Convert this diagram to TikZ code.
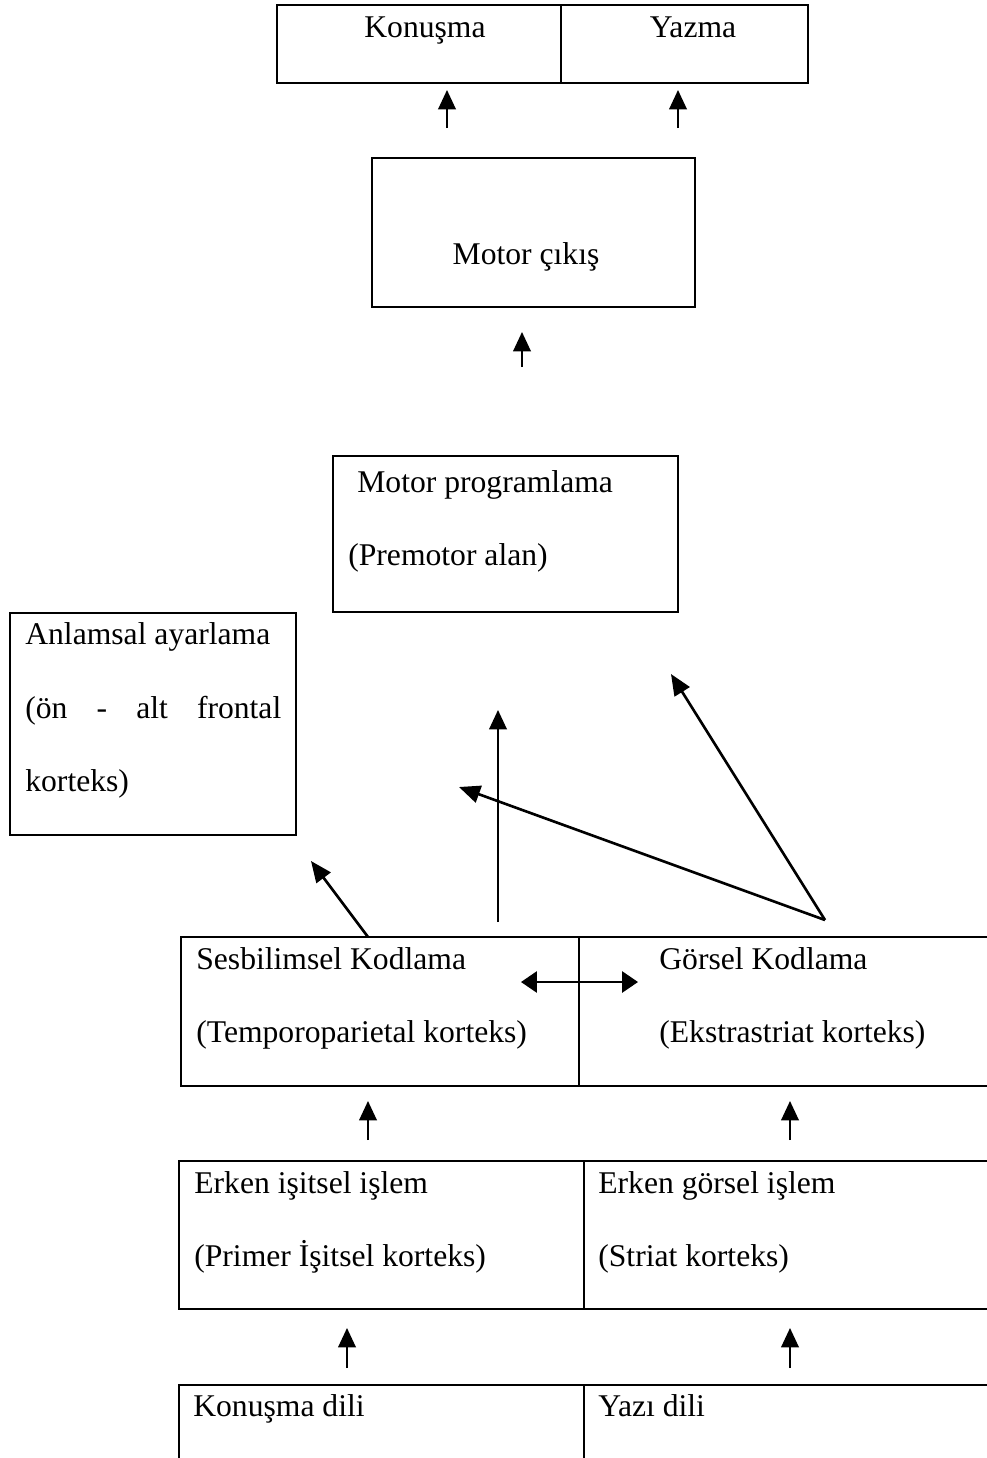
\documentclass[tikz,border=0pt]{standalone}
\usepackage{fontspec}
\setmainfont{Liberation Serif}
\usetikzlibrary{arrows.meta,positioning}
\tikzset{
  box/.style  = {draw, rectangle, line width=0.9pt, inner sep=0pt},
  lbl/.style  = {anchor=base west, inner sep=0pt, font=\fontsize{18}{22}\selectfont},
  up/.style   = {line width=1.1pt, -{Triangle[length=11pt,width=10pt]}},
  link/.style = {line width=1.5pt, -{Triangle[length=12pt,width=10pt]}}
}

\begin{document}
\begin{tikzpicture}[x=0.02cm,y=-0.02cm]
\clip (0,0) rectangle (987,1458);

% boxes
\node[box, minimum width=5.68cm, minimum height=1.56cm] (konusma) at (419,44) {};
\node[box, minimum width=4.94cm, minimum height=1.56cm] (yazma) at (684.5,44) {};
\node[box, minimum width=6.46cm, minimum height=2.98cm] (cikis) at (533.5,232.5) {};
\node[box, minimum width=6.90cm, minimum height=3.12cm] (program) at (505.5,534) {};
\node[box, minimum width=5.72cm, minimum height=4.44cm] (anlam) at (153,724) {};
\node[box, minimum width=7.96cm, minimum height=2.98cm] (ses) at (380,1011.5) {};
\node[box, minimum width=8.62cm, minimum height=2.98cm] (gorsel) at (794,1011.5) {};
\node[box, minimum width=8.10cm, minimum height=2.96cm] (isitsel) at (381.5,1235) {};
\node[box, minimum width=8.52cm, minimum height=2.96cm] (erkengorsel) at (797,1235) {};
\node[box, minimum width=8.10cm, minimum height=3.10cm] (konusmadili) at (381.5,1462.5) {};
\node[box, minimum width=8.52cm, minimum height=3.10cm] (yazidili) at (797,1462.5) {};

% texts
\node[lbl, anchor=base] (konusmaT) at (425,37) {Konuşma};
\node[lbl, anchor=base] (yazmaT) at (693,37) {Yazma};
\node[lbl, anchor=base] (cikisT) at (526,264) {Motor çıkış};
\node[lbl] (program1) at (357,492) {Motor programlama};
\node[lbl] (program2) at (348,565) {(Premotor alan)};
\node[lbl] (anlam1) at (25,644) {Anlamsal ayarlama};
\node[lbl] (anlam2) at (25,718) {\makebox[5.12cm][s]{(ön - alt frontal}};
\node[lbl] (anlam3) at (25,791) {korteks)};
\node[lbl] (ses1) at (196,969) {Sesbilimsel Kodlama};
\node[lbl] (ses2) at (196,1042) {(Temporoparietal korteks)};
\node[lbl] (gorsel1) at (659,969) {Görsel Kodlama};
\node[lbl] (gorsel2) at (659,1042) {(Ekstrastriat korteks)};
\node[lbl] (isitsel1) at (194,1193) {Erken işitsel işlem};
\node[lbl] (isitsel2) at (194,1266) {(Primer İşitsel korteks)};
\node[lbl] (erkengorsel1) at (598,1193) {Erken görsel işlem};
\node[lbl] (erkengorsel2) at (598,1266) {(Striat korteks)};
\node[lbl] (konusmadiliT) at (193,1416) {Konuşma dili};
\node[lbl] (yazidiliT) at (598,1416) {Yazı dili};

% arrow ends
\coordinate (k0) at (447,128);   \coordinate (k1) at (447,90);
\coordinate (y0) at (678,128);   \coordinate (y1) at (678,90);
\coordinate (c0) at (522,367);   \coordinate (c1) at (522,332);
\coordinate (s0) at (368,937);   \coordinate (s1) at (311,861);
\coordinate (m0) at (498,922);   \coordinate (m1) at (498,710);
\coordinate (g0) at (825,920);
\coordinate (g1) at (459,787);   \coordinate (g2) at (671,674);
\coordinate (d0) at (521,982);   \coordinate (d1) at (638,982);
\coordinate (i0) at (368,1140);  \coordinate (i1) at (368,1101);
\coordinate (e0) at (790,1140);  \coordinate (e1) at (790,1101);
\coordinate (p0) at (347,1368);  \coordinate (p1) at (347,1328);
\coordinate (r0) at (790,1368);  \coordinate (r1) at (790,1328);

% arrows
\draw[up] (k0) -- (k1);
\draw[up] (y0) -- (y1);
\draw[up] (c0) -- (c1);
\draw[link] (s0) -- (s1);
\draw[up] (m0) -- (m1);
\draw[link] (g0) -- (g1);
\draw[link] (g0) -- (g2);
\draw[up, {Triangle[length=9pt,width=12pt]}-{Triangle[length=9pt,width=12pt]}] (d0) -- (d1);
\draw[up] (i0) -- (i1);
\draw[up] (e0) -- (e1);
\draw[up] (p0) -- (p1);
\draw[up] (r0) -- (r1);
\end{tikzpicture}
\end{document}
